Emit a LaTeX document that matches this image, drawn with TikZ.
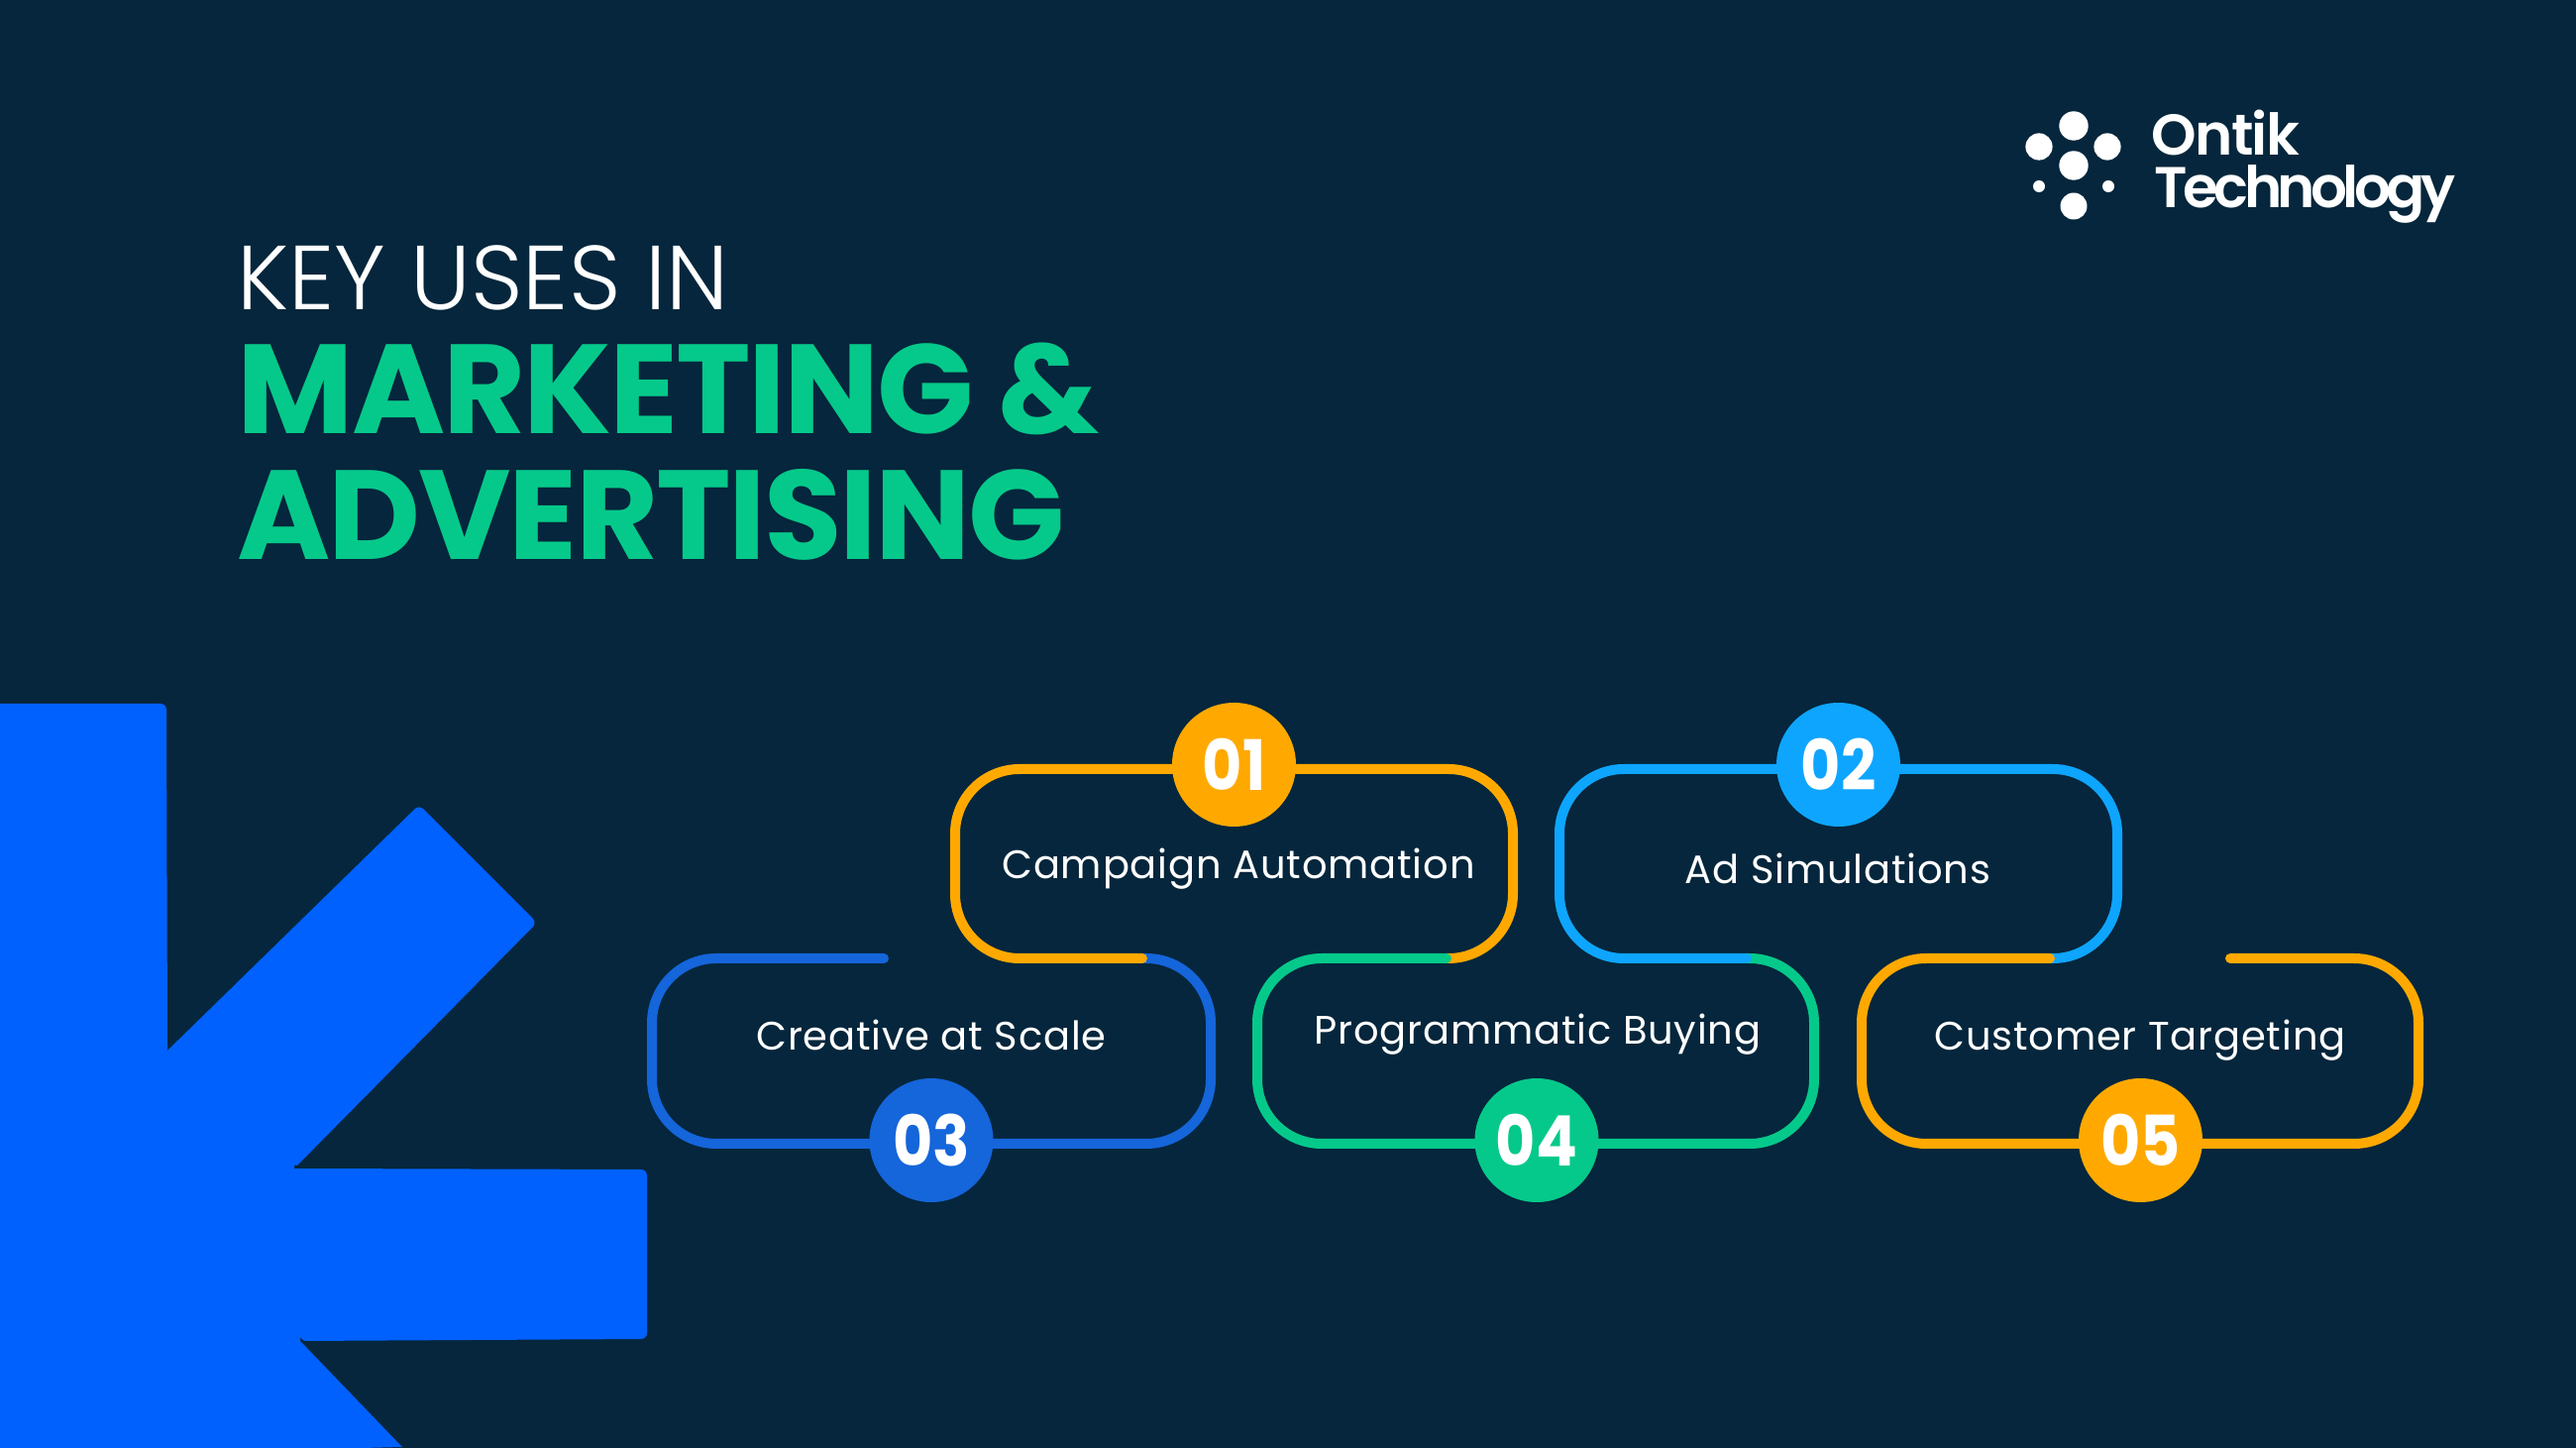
\documentclass[tikz,border=0pt]{standalone}
\usepackage{fontspec}
\setmainfont{Poppins}
\newfontfamily\lightfont{Poppins Light}
\newfontfamily\badgefont{Poppins}[UprightFont=*-Bold,FakeStretch=.88]
\newfontfamily\titlefont{Poppins}[UprightFont=*-Bold,LetterSpace=-1.7]
\newfontfamily\labelfont{Poppins}[LetterSpace=2]
\newfontfamily\logofont{Poppins}[UprightFont=*-SemiBold,LetterSpace=-3]
\newfontfamily\logotightfont{Poppins}[UprightFont=*-SemiBold,LetterSpace=-8]
\definecolor{pagebg}{HTML}{05263C}
\definecolor{bigblue}{HTML}{0061FF}
\definecolor{amber}{HTML}{FFA900}
\definecolor{skyblue}{HTML}{0EA5FF}
\definecolor{royal}{HTML}{1565DB}
\definecolor{mint}{HTML}{05C98A}
\begin{document}
\begin{tikzpicture}
    \tikzstyle{loop}=[line width=.1cm,line cap=round,rounded corners=.65cm]
    \tikzstyle{badge}=[circle,minimum size=1.25cm,inner sep=0pt,text=white,font=\badgefont\fontsize{20}{20}\selectfont]
    \tikzstyle{label}=[text=white,inner sep=0pt,anchor=base,font=\labelfont\fontsize{11.4}{12}\selectfont]
    \tikzstyle{dot}=[circle,fill=white,inner sep=0pt]
    \tikzstyle{heading}=[inner sep=0pt,anchor=base west]

    \useasboundingbox (0,0) rectangle (26,14.6);
    \fill[pagebg] (-.1,-.1) rectangle (26.1,14.7);

    % big shape, lower left
    \fill[bigblue,rounded corners=.06cm] (0,7.5) -- (1.68,7.5) -- (1.69,4.0) [sharp corners] -- (1.69,4.0) [rounded corners=.06cm] -- (4.23,6.48) -- (5.42,5.29) -- (2.97,2.81) [sharp corners] -- (2.97,2.81) [rounded corners=.06cm] -- (6.53,2.80) -- (6.53,1.09) -- (3.03,1.07) [sharp corners] -- (3.03,1.07) -- (4.06,0) -- (0,-.1) -- cycle;

    % heading
    \node[heading,text=white,font=\lightfont\fontsize{26.1}{27}\selectfont] (title_a) at (2.39,11.47) {KEY USES IN};
    \node[heading,text=mint,font=\titlefont\fontsize{36.4}{37}\selectfont] (title_b) at (2.39,10.22) {MARKETING \&};
    \node[heading,text=mint,font=\titlefont\fontsize{36.4}{37}\selectfont] (title_c) at (2.39,8.95) {ADVERTISING};

    % logo
    \node[dot,minimum size=.294cm] (dot_a) at (20.93,13.33) {};
    \node[dot,minimum size=.272cm] (dot_b) at (20.58,13.12) {};
    \node[dot,minimum size=.272cm] (dot_c) at (21.27,13.12) {};
    \node[dot,minimum size=.294cm] (dot_d) at (20.93,12.93) {};
    \node[dot,minimum size=.12cm] (dot_e) at (20.58,12.72) {};
    \node[dot,minimum size=.12cm] (dot_f) at (21.28,12.72) {};
    \node[dot,minimum size=.27cm] (dot_g) at (20.93,12.52) {};
    \node[heading,text=white,font=\logofont\fontsize{16.5}{17}\selectfont] (logo_a) at (21.71,13.03) {Ontik};
    \node[heading,text=white,font=\logotightfont\fontsize{16.5}{17}\selectfont] (logo_b) at (21.74,12.50) {Technology};

    % corners of the loops
    \coordinate (tail_three) at (8.92,4.93);
    \coordinate (join_one) at (11.53,4.93);
    \coordinate (join_four) at (14.60,4.93);
    \coordinate (join_two) at (17.63,4.93);
    \coordinate (join_five) at (20.69,4.93);
    \coordinate (tail_five) at (22.51,4.93);

    \draw[loop,royal] (tail_three) -- (6.58,4.93) -- (6.58,3.06) -- (12.22,3.06) -- (12.22,4.93) -- (join_one);
    \draw[loop,amber] (join_one) -- (9.64,4.93) -- (9.64,6.84) -- (15.27,6.84) -- (15.27,4.93) -- (join_four);
    \draw[loop,mint] (join_four) -- (12.69,4.93) -- (12.69,3.06) -- (18.31,3.06) -- (18.31,4.93) -- (join_two);
    \draw[loop,skyblue] (join_two) -- (15.74,4.93) -- (15.74,6.84) -- (21.37,6.84) -- (21.37,4.93) -- (join_five);
    \draw[loop,amber] (join_five) -- (18.79,4.93) -- (18.79,3.06) -- (24.41,3.06) -- (24.41,4.93) -- (tail_five);

    % numbers
    \node[badge,fill=amber] (one) at (12.455,6.885) {01};
    \node[badge,fill=skyblue] (two) at (18.555,6.885) {02};
    \node[badge,fill=royal] (three) at (9.40,3.095) {03};
    \node[badge,fill=mint] (four) at (15.51,3.095) {04};
    \node[badge,fill=amber] (five) at (21.605,3.095) {05};

    \node[label] (auto) at (12.50,5.73) {Campaign Automation};
    \node[label] (sims) at (18.55,5.68) {Ad Simulations};
    \node[label] (creative) at (9.40,4.00) {Creative at Scale};
    \node[label] (buying) at (15.52,4.06) {Programmatic Buying};
    \node[label] (target) at (21.60,4.00) {Customer Targeting};
\end{tikzpicture}
\end{document}
